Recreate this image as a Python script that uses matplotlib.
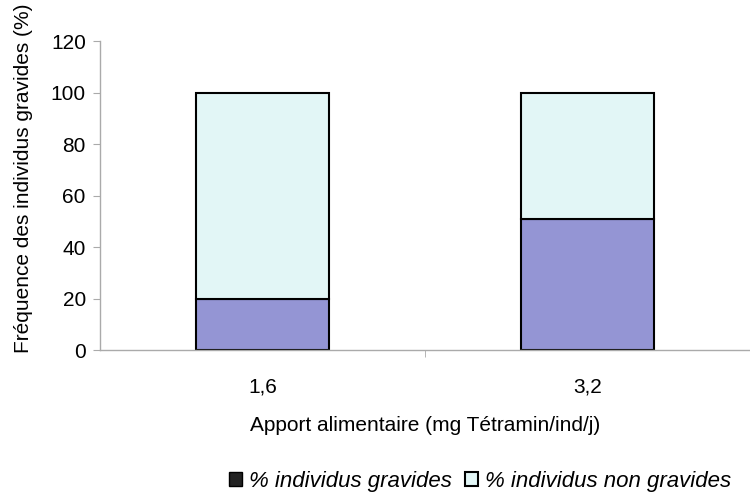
import matplotlib
matplotlib.use("Agg")
import matplotlib.pyplot as plt
from matplotlib.patches import Patch

plt.rcParams['font.family'] = ['Liberation Sans', 'DejaVu Sans']

categories = ["1,6", "3,2"]
gravides = [20, 51]
non_gravides = [80, 49]
yticks = [0, 20, 40, 60, 80, 100, 120]

col_grav = "#9495d4"
col_non = "#e2f6f6"

fig = plt.figure(figsize=(7.5, 4.96), dpi=100)
ax = fig.add_axes([0.133, 0.294, 0.867, 0.623])

x = range(len(categories))
ax.bar(x, gravides, width=0.41, color=col_grav, edgecolor="black", linewidth=1.5)
ax.bar(x, non_gravides, width=0.41, bottom=gravides, color=col_non,
       edgecolor="black", linewidth=1.5)

ax.set_xlim(-0.5, 1.5)
ax.set_ylim(0, 120)
ax.set_yticks(yticks)
ax.set_xticks(list(x))
ax.set_xticklabels(categories)
ax.tick_params(axis="x", length=0, pad=20, labelsize=15)
ax.set_xticks([0.5], minor=True)
ax.tick_params(axis="x", which="minor", length=5, color="#aaaaaa", direction="out")
ax.tick_params(axis="y", length=5, color="#aaaaaa", labelsize=15, pad=5)

for s in ["top", "right"]:
    ax.spines[s].set_visible(False)
for s in ["left", "bottom"]:
    ax.spines[s].set_color("#aaaaaa")
    ax.spines[s].set_linewidth(1.0)

ax.set_ylabel("Fréquence des individus gravides (%)", fontsize=15)
ax.yaxis.set_label_coords(-0.102, 0.557)
ax.set_xlabel("Apport alimentaire (mg Tétramin/ind/j)", fontsize=15, labelpad=14)

handles = [Patch(facecolor="#222222", edgecolor="black", label="% individus gravides"),
           Patch(facecolor=col_non, edgecolor="black", linewidth=1.5, label="% individus non gravides")]
fig.legend(handles=handles, loc="center", bbox_to_anchor=(0.64, 0.03), ncol=2,
           frameon=False, prop={"style": "italic", "size": 16},
           handlelength=0.6, handleheight=0.6, handletextpad=0.3, columnspacing=0.6)

fig.savefig("out.png", dpi=100)
